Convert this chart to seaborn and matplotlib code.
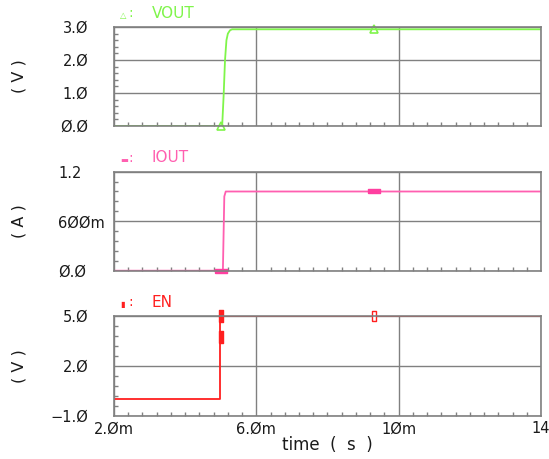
import numpy as np
import pandas as pd
import matplotlib
matplotlib.use("Agg")
import matplotlib.pyplot as plt
import seaborn as sns

# waveform data (time in ms)
vout_t = [2.0, 5.04, 5.08, 5.12, 5.16, 5.20, 5.26, 5.32, 14.0]
vout_v = [0.0, 0.0, 0.9, 2.0, 2.6, 2.8, 2.9, 2.93, 2.93]
iout_t = [2.0, 5.06, 5.10, 5.14, 14.0]
iout_i = [0.0, 0.0, 0.9, 0.96, 0.96]
en_t = [2.0, 4.99, 4.99, 14.0]
en_v = [0.0, 0.0, 5.0, 5.0]

# marker positions
vout_mk_t = [5.0, 9.3]
vout_mk_v = [0.0, 2.93]
iout_mk_t = [5.0, 9.3]
iout_mk_i = [0.0, 0.96]
en_mk_t = [5.0, 5.0]
en_mk_v = [5.0, 3.75]
en_mk2_t = [9.3]
en_mk2_v = [5.0]

x_ticks = [2, 6, 10, 14]
x_labels = ["2.Øm", "6.Øm", "1Øm", "14"]

GREEN = "#7ff54a"
PINK = "#ff5fb0"
RED = "#ff1f1f"
GRAY = "#808080"
TXT = "#1a1a1a"

sns.set_style("white")
plt.rcParams["font.family"] = ["DejaVu Sans"]

fig = plt.figure(figsize=(5.49, 4.59), dpi=100)
W = 427 / 549
ax1 = fig.add_axes([114 / 549, 1 - 126 / 459, W, 99 / 459])
ax2 = fig.add_axes([114 / 549, 1 - 270.7 / 459, W, 99 / 459])
ax3 = fig.add_axes([114 / 549, 1 - 415.7 / 459, W, 99.7 / 459])

rect_h = [(-1, -0.4), (1, -0.4), (1, 0.4), (-1, 0.4), (-1, -0.4)]
rect_v = [(-0.4, -1), (0.4, -1), (0.4, 1), (-0.4, 1), (-0.4, -1)]

sns.lineplot(x=vout_t, y=vout_v, ax=ax1, color=GREEN, lw=1.3,
             estimator=None, sort=False)
ax1.plot(vout_mk_t, vout_mk_v, ls="none", marker="^", ms=6,
         mfc="none", mec=GREEN, mew=1.2, clip_on=False)

sns.lineplot(x=iout_t, y=iout_i, ax=ax2, color=PINK, lw=1.3,
             estimator=None, sort=False)
ax2.plot(iout_mk_t, iout_mk_i, ls="none", marker=rect_h, ms=8,
         mfc="#ff3fa0", mec="#ff3fa0", clip_on=False)

sns.lineplot(x=en_t, y=en_v, ax=ax3, color=RED, lw=1.3,
             estimator=None, sort=False)
ax3.plot(en_mk_t, en_mk_v, ls="none", marker=rect_v, ms=8,
         mfc=RED, mec=RED, clip_on=False)
ax3.plot(en_mk2_t, en_mk2_v, ls="none", marker=rect_v, ms=7,
         mfc="white", mec=RED, mew=1, clip_on=False)

panels = [
    (ax1, (0, 3.0), [0, 1, 2, 3], ["Ø.Ø", "1.Ø", "2.Ø", "3.Ø"], 0.2,
     "( V )", "△", "VOUT", GREEN, "right"),
    (ax2, (0, 1.2), [0, 0.6, 1.2], ["Ø.Ø", "6ØØm", "1.2"], 0.12,
     "( A )", "▬", "IOUT", PINK, "left"),
    (ax3, (-1, 5), [-1, 2, 5], ["−1.Ø", "2.Ø", "5.Ø"], 0.6,
     "( V )", "▮", "EN", RED, "right"),
]

for ax, ylim, yt, ylab, yminor, unit, sym, name, col, ha in panels:
    ax.set_xlim(2, 14)
    ax.set_ylim(*ylim)
    ax.set_xticks(x_ticks)
    ax.set_xticks(np.arange(2, 14.01, 0.4), minor=True)
    ax.set_yticks(yt)
    ax.set_yticks(np.arange(ylim[0], ylim[1] + 1e-6, yminor), minor=True)
    ax.set_yticklabels(ylab)
    ax.grid(True, which="major", color=GRAY, lw=1)
    ax.set_axisbelow(True)
    for s in ax.spines.values():
        s.set_color(GRAY)
        s.set_linewidth(1.2)
    ax.tick_params(which="major", length=0, labelsize=10.5, colors=TXT)
    ax.tick_params(which="minor", direction="in", length=3, color=GRAY,
                   width=1, left=True, bottom=True)
    pad = 40 if ha == "left" else 18.5
    ax.tick_params(axis="y", which="major", pad=pad)
    for lab in ax.get_yticklabels():
        lab.set_horizontalalignment(ha)
    ax.set_xlabel("")
    ax.set_ylabel(unit, fontsize=11.5, color=TXT)
    ax.yaxis.set_label_coords(-0.205, 0.5)
    ax.annotate(sym, xy=(0, 1), xycoords="axes fraction",
                xytext=(4.3, 8), textcoords="offset points",
                fontsize=6, color=col, va="center", ha="left")
    ax.annotate(":", xy=(0, 1), xycoords="axes fraction",
                xytext=(10.5, 10), textcoords="offset points",
                fontsize=10, color=col, va="center", ha="left")
    ax.annotate(name, xy=(0, 1), xycoords="axes fraction",
                xytext=(27, 10), textcoords="offset points",
                fontsize=11, color=col, va="center", ha="left")

ax1.tick_params(axis="x", labelbottom=False)
ax2.tick_params(axis="x", labelbottom=False)
ax3.set_xticklabels(x_labels)
ax3.tick_params(axis="x", which="major", pad=4)
ax3.set_xlabel("time  (  s  )", fontsize=12, color=TXT, labelpad=0)

fig.savefig("out.png", dpi=100, facecolor="white")
